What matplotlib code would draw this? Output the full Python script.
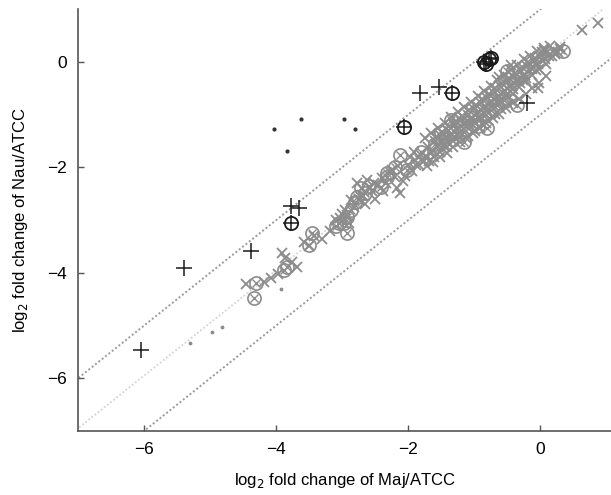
import numpy as np
import matplotlib
matplotlib.use('Agg')
import matplotlib.pyplot as plt

plt.rcParams['font.family'] = ['Liberation Sans', 'DejaVu Sans']

# gray x: genes along the main band (Maj/ATCC, Nau/ATCC)
band_x = [-4.45, -4.19, -4.08, -3.97, -3.91, -3.86, -3.68, -3.76, -3.58, -3.30,
          -3.18, -3.04, -2.96, -2.86, -2.77, -2.62, -2.70, -2.55, -2.46, -2.40,
          -2.27, -2.17, -2.12, -2.05, -2.00, -1.95, -1.90, -1.84, -1.80, -1.76,
          -2.33, -2.50, -2.65, -2.82, -2.92, -3.42, -3.50,
          -1.70, -1.73, -1.66, -1.69,
          -1.60, -1.63, -1.57, -1.61, -1.58,
          -1.50, -1.53, -1.47, -1.52, -1.49,
          -1.40, -1.43, -1.37, -1.42, -1.38, -1.41,
          -1.30, -1.33, -1.27, -1.32, -1.28, -1.31,
          -1.20, -1.23, -1.17, -1.22, -1.18, -1.21,
          -1.10, -1.13, -1.07, -1.12, -1.08, -1.11, -1.09,
          -1.00, -1.03, -0.97, -1.02, -0.98, -1.01, -0.99,
          -0.90, -0.93, -0.87, -0.92, -0.88, -0.91, -0.89,
          -0.80, -0.83, -0.77, -0.82, -0.78, -0.81, -0.79,
          -0.70, -0.73, -0.67, -0.72, -0.68, -0.71, -0.69,
          -0.60, -0.63, -0.57, -0.62, -0.58, -0.61, -0.59,
          -0.50, -0.53, -0.47, -0.52, -0.48, -0.51, -0.49,
          -0.40, -0.43, -0.37, -0.42, -0.38, -0.41,
          -0.30, -0.33, -0.27, -0.32, -0.28, -0.31,
          -0.20, -0.23, -0.17, -0.22, -0.18, -0.21,
          -0.10, -0.13, -0.07, -0.12, -0.08,
          0.00, -0.03, 0.03, -0.02, 0.02,
          0.10, 0.07, 0.13, 0.08,
          0.20, 0.17, 0.22,
          0.30, 0.27,
          0.63, 0.87, 0.05, 0.30, -0.03, -0.45, -0.62,
          # extra genes filling the dense part of the band
          -1.75, -1.65, -1.55, -1.45, -1.35, -1.25, -1.15, -1.05, -0.95, -0.85,
          -0.75, -0.65, -0.55, -0.45, -0.35, -0.25, -0.15, -0.05, 0.05, 0.15,
          -1.72, -1.62, -1.52, -1.42, -1.32, -1.22, -1.12, -1.02, -0.92, -0.82,
          -0.72, -0.62, -0.52, -0.42, -0.32, -0.22, -0.12, -0.02, 0.08,
          -1.46, -1.26, -1.06, -0.86, -0.66, -0.46, -0.26, -0.06,
          -2.25, -2.15, -2.08, -1.98, -1.88, -2.38, -2.58, -2.68, -2.75, -2.90,
          -3.00, -3.10, -2.52, -2.20, -1.92]
band_y = [-4.22, -4.17, -4.10, -4.02, -3.63, -3.72, -3.88, -3.80, -3.41, -3.35,
          -3.20, -2.96, -2.80, -2.62, -2.30, -2.24, -2.52, -2.44, -2.34, -2.20,
          -2.08, -2.40, -2.49, -2.16, -1.96, -2.06, -1.86, -1.96, -1.76, -1.88,
          -2.30, -2.60, -2.70, -2.76, -2.90, -3.30, -3.50,
          -1.62, -1.78, -1.70, -1.88,
          -1.50, -1.68, -1.60, -1.80, -1.42,
          -1.40, -1.58, -1.50, -1.70, -1.32,
          -1.30, -1.45, -1.40, -1.62, -1.22, -1.52,
          -1.20, -1.36, -1.28, -1.50, -1.12, -1.42,
          -1.10, -1.26, -1.18, -1.40, -1.02, -1.32,
          -1.00, -1.16, -1.08, -1.30, -0.92, -1.22, -1.40,
          -0.90, -1.06, -0.98, -1.20, -0.82, -1.12, -1.30,
          -0.78, -0.95, -0.88, -1.10, -0.70, -1.02, -1.18,
          -0.68, -0.85, -0.78, -1.00, -0.60, -0.92, -1.10,
          -0.58, -0.75, -0.68, -0.90, -0.50, -0.82, -0.98,
          -0.48, -0.64, -0.58, -0.80, -0.40, -0.72, -0.90,
          -0.38, -0.55, -0.46, -0.70, -0.30, -0.62, -0.80,
          -0.28, -0.44, -0.36, -0.60, -0.20, -0.52,
          -0.18, -0.34, -0.26, -0.48, -0.10, -0.40,
          -0.08, -0.24, -0.16, -0.36, 0.00, -0.30,
          0.02, -0.14, -0.06, -0.24, 0.08,
          0.10, -0.04, 0.04, -0.14, 0.18,
          0.18, 0.06, 0.12, -0.04,
          0.22, 0.12, 0.16,
          0.24, 0.18,
          0.61, 0.73, 0.23, 0.29, -0.50, -0.05, -0.28,
          -1.45, -1.35, -1.25, -1.15, -1.05, -0.95, -0.85, -0.75, -0.65, -0.55,
          -0.45, -0.35, -0.25, -0.15, -0.05, 0.05, 0.12, 0.20, 0.26, 0.30,
          -1.98, -1.90, -1.80, -1.72, -1.62, -1.52, -1.44, -1.34, -1.26, -1.16,
          -1.06, -0.98, -0.88, -0.78, -0.70, -0.60, -0.50, -0.40, -0.26,
          -1.60, -1.38, -1.16, -0.96, -0.76, -0.56, -0.34, -0.16,
          -2.05, -1.98, -2.25, -1.80, -1.95, -2.45, -2.40, -2.55, -2.62, -3.05,
          -2.88, -3.00, -2.30, -2.18, -1.70]

# gray circles
circ_x = [-4.31, -4.34, -3.88, -3.83, -3.50, -3.45, -3.10, -3.05, -2.92, -2.92,
          -2.87, -2.77, -2.72, -2.65, -2.32, -2.12, -2.02, -2.32, -2.42, -1.36,
          -1.51, -1.16, -0.81, -0.35, 0.35, -0.50, -2.60, -2.80, -1.80, -0.95,
          -2.97, -2.20, -1.60]
circ_y = [-4.20, -4.48, -3.95, -3.88, -3.47, -3.25, -3.12, -3.06, -3.25, -2.94,
          -2.81, -2.56, -2.40, -2.49, -2.18, -1.76, -2.05, -2.11, -2.37, -1.10,
          -1.32, -1.51, -1.26, -0.82, 0.20, -0.18, -2.35, -2.65, -1.70, -1.22,
          -3.05, -2.00, -1.55]

# gray dots
gdot_x = [-5.30, -4.97, -4.82, -3.92]
gdot_y = [-5.34, -5.13, -5.02, -4.31]

# black plus
plus_x = [-6.05, -5.39, -4.38, -3.78, -3.66, -1.82, -1.54, -0.20,
          -3.78, -2.07, -1.34, -0.85, -0.78, -0.74, -0.82]
plus_y = [-5.46, -3.91, -3.59, -2.73, -2.77, -0.59, -0.47, -0.78,
          -3.06, -1.24, -0.59, 0.00, 0.05, 0.08, -0.03]

# black circles
bcirc_x = [-3.78, -2.07, -1.34, -0.85, -0.78, -0.74, -0.82]
bcirc_y = [-3.06, -1.24, -0.59, 0.00, 0.05, 0.08, -0.03]

# black dots
bdot_x = [-4.03, -3.63, -3.84, -2.98, -2.80]
bdot_y = [-1.28, -1.08, -1.68, -1.09, -1.28]

# dotted guide lines: y = x + offset
guide_offsets = [1, -1]
fit_slope, fit_icpt = 1.0, 0.05

fig = plt.figure(figsize=(6.11, 4.95), dpi=100)
ax = fig.add_axes([0.1277, 0.1293, 0.8723, 0.852])

xx = np.array([-7.5, 1.5])
for off in guide_offsets:
    ax.plot(xx, xx + off, linestyle=(0, (1, 1.2)), color='#9a9a9a', lw=1.4, zorder=1)
ax.plot(xx, fit_slope * xx + fit_icpt, linestyle=(0, (1, 1.2)), color='#d4d4d4',
        lw=1.3, zorder=1)

gray = '#8c8c8c'
ax.plot(band_x, band_y, 'x', color=gray, ms=7.5, mew=1.3, zorder=2)
ax.plot(circ_x, circ_y, 'o', mfc='none', mec=gray, ms=9.5, mew=1.2, zorder=2)
ax.plot(circ_x, circ_y, 'x', color=gray, ms=5.5, mew=1.0, zorder=2)
ax.plot(gdot_x, gdot_y, '.', color=gray, ms=3.5, zorder=2)

ax.plot(plus_x, plus_y, '+', color='#1a1a1a', ms=11, mew=1.1, zorder=3)
ax.plot(bcirc_x, bcirc_y, 'o', mfc='none', mec='#1a1a1a', ms=9.5, mew=1.3, zorder=3)
ax.plot(bdot_x, bdot_y, '.', color='#333333', ms=4, zorder=3)

ax.set_xlim(-7, 1.07)
ax.set_ylim(-7, 1)
ax.set_xticks([-6, -4, -2, 0])
ax.set_yticks([-6, -4, -2, 0])
ax.set_xticklabels(['\u22126', '\u22124', '\u22122', '0'])
ax.set_yticklabels(['\u22126', '\u22124', '\u22122', '0'])
ax.tick_params(direction='in', length=4, width=1, color='#555555',
               labelsize=12.5, pad=8)
for s in ['top', 'right']:
    ax.spines[s].set_visible(False)
for s in ['left', 'bottom']:
    ax.spines[s].set_color('#555555')
    ax.spines[s].set_linewidth(1.2)

ax.set_xlabel('log$_2$ fold change of Maj/ATCC', fontsize=12, labelpad=10)
ax.set_ylabel('log$_2$ fold change of Nau/ATCC', fontsize=12, labelpad=12)

fig.savefig('out.png', dpi=100)
